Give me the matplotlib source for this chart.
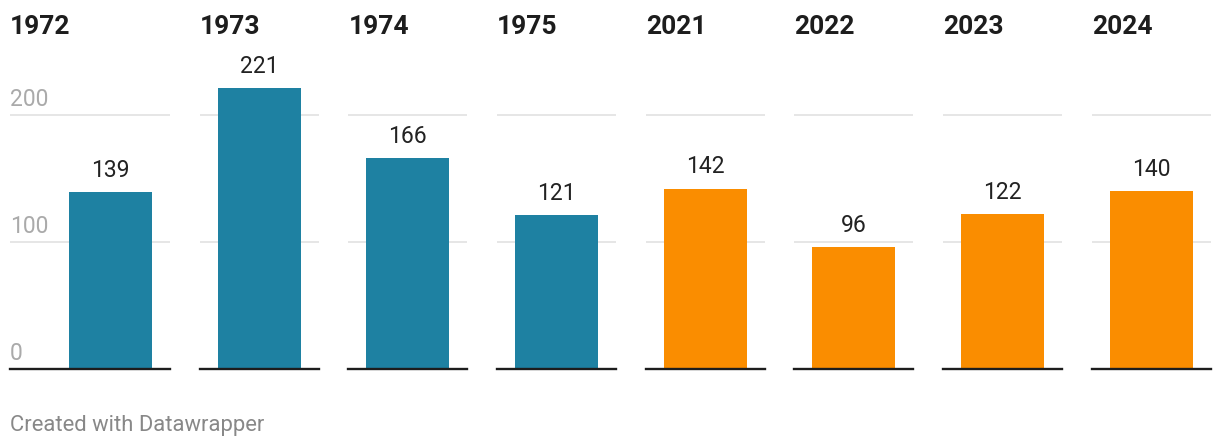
import matplotlib
matplotlib.use('Agg')
import matplotlib.pyplot as plt

plt.rcParams['font.family'] = ['Roboto', 'DejaVu Sans']

# chart data
years = ['1972', '1973', '1974', '1975', '2021', '2022', '2023', '2024']
counts = [139, 221, 166, 121, 142, 96, 122, 140]
bar_colors = ['#1e81a2'] * 4 + ['#fa8d00'] * 4
y_ticks = [0, 100, 200]

W, H = 1220, 448
fig = plt.figure(figsize=(W / 100, H / 100), dpi=100)

# pixel layout
step = 148.67
first_left = 51
panel_w = 119
bar_w = 83
y0_px = 369          # baseline from top
px_per_unit = 1.27
ymax = 260

for i, (yr, val, col) in enumerate(zip(years, counts, bar_colors)):
    left = first_left + i * step
    center = left + panel_w / 2
    if i == 0:
        ax_left = 10
    else:
        ax_left = left
    right = left + panel_w
    ax_w = right - ax_left
    ax_h = ymax * px_per_unit
    ax = fig.add_axes([ax_left / W, (H - y0_px) / H, ax_w / W, ax_h / H])
    ax.set_xlim(ax_left - center, right - center)
    ax.set_ylim(0, ymax)

    ax.bar(0, val, width=bar_w, color=col, zorder=2)
    ax.annotate(str(val), (0, val), xytext=(0, 7.5), textcoords='offset points',
                ha='center', va='bottom', fontsize=16.5, color='#222222')

    for t in y_ticks[1:]:
        ax.axhline(t, color='#e6e6e6', lw=1.4, zorder=1)
    ax.axhline(0, color='#1d1d1d', lw=1.7, zorder=3, clip_on=False)

    if i == 0:
        for t in y_ticks:
            ax.annotate(str(t), (ax_left - center, t), xytext=(0, 6.5),
                        textcoords='offset points', ha='left', va='baseline',
                        fontsize=16.5, color='#aaaaaa')

    for s in ax.spines.values():
        s.set_visible(False)
    ax.set_xticks([])
    ax.set_yticks([])
    ax.patch.set_alpha(0)

    fig.text(ax_left / W, (H - 34) / H, yr, ha='left', va='baseline',
             fontsize=19, fontweight='bold', color='#1d1d1d')

fig.text(10 / W, (H - 431) / H, 'Created with Datawrapper', ha='left',
         va='baseline', fontsize=15.8, color='#888888')

fig.savefig('out.png', dpi=100)
